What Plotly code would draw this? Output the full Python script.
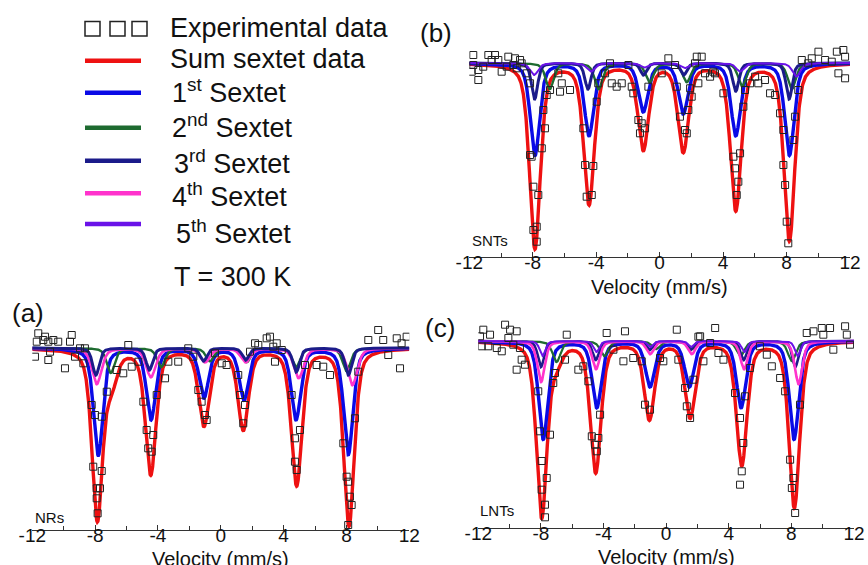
import numpy as np
import plotly.graph_objects as go

# ---------------- tick labels ----------------
tick_vals = [-12, -8, -4, 0, 4, 8, 12]
tick_text = ["-12", "-8", "-4", "0", "4", "8", "12"]

# ---------------- sextet line parameters ----------------
# positions (mm/s), depths (% absorption), line width (FWHM, mm/s)
# Panel (a) NRs
a_sum_pos = [-7.86, -4.46, -1.07, 1.43, 4.83, 8.16, -6.95]
a_sum_depth = [17.0, 12.5, 7.6, 8.0, 13.6, 17.7, 3.0]
a_sum_w = 0.8
a_s1_pos = [-7.80, -4.44, -1.07, 1.48, 4.79, 8.12]
a_s1_depth = [10.7, 7.1, 4.9, 5.1, 7.1, 10.6]
a_s1_w = 0.7
a_s2_pos = [-7.00, -3.80, -0.69, 1.65, 4.80, 8.01]
a_s2_depth = [2.5, 1.9, 1.3, 1.4, 1.9, 2.3]
a_s2_w = 0.6
a_s3_pos = [-7.95, -4.55, -1.10, 1.58, 4.80, 8.12]
a_s3_depth = [2.7, 2.2, 1.3, 1.2, 2.4, 2.7]
a_s3_w = 0.5
a_s4_pos = [-7.90, -4.45, -1.00, 1.58, 4.96, 8.38]
a_s4_depth = [3.6, 2.9, 1.4, 1.4, 3.0, 3.7]
a_s4_w = 0.72

# Panel (b) SNTs
b_sum_pos = [-7.86, -4.45, -1.03, 1.49, 4.80, 8.18]
b_sum_depth = [18.5, 14.0, 8.5, 8.7, 14.6, 17.7]
b_sum_w = 0.8
b_s1_pos = [-7.86, -4.45, -1.03, 1.49, 4.80, 8.18]
b_s1_depth = [9.2, 7.2, 4.8, 5.0, 7.2, 9.2]
b_s1_w = 0.7
b_s2_pos = [-6.93, -3.85, -0.63, 1.71, 5.20, 8.33]
b_s2_depth = [2.6, 2.6, 1.9, 1.9, 2.3, 2.6]
b_s2_w = 0.6
b_s3_pos = [-7.88, -4.52, -1.02, 1.52, 4.80, 8.16]
b_s3_depth = [3.6, 2.6, 1.2, 1.2, 2.8, 3.6]
b_s3_w = 0.46
b_s5_pos = [-7.92, -4.33, -0.95, 1.60, 5.07, 8.62]
b_s5_depth = [1.2, 0.85, 0.45, 0.5, 0.85, 1.35]
b_s5_w = 0.6

# Panel (c) LNTs
c_sum_pos = [-7.95, -4.50, -1.07, 1.53, 4.83, 8.19, -7.00]
c_sum_depth = [17.5, 13.0, 7.7, 7.5, 12.3, 16.6, 1.6]
c_sum_w = 0.8
c_s1_pos = [-7.85, -4.43, -1.03, 1.48, 4.79, 8.17]
c_s1_depth = [9.8, 6.6, 4.5, 4.5, 6.6, 9.8]
c_s1_w = 0.7
c_s2_pos = [-7.00, -3.95, -0.65, 1.65, 4.75, 8.03]
c_s2_depth = [2.1, 1.5, 0.8, 0.8, 1.5, 2.0]
c_s2_w = 0.6
c_s3_pos = [-8.00, -4.50, -1.05, 1.55, 4.95, 8.25]
c_s3_depth = [2.6, 1.9, 0.9, 0.9, 1.9, 2.6]
c_s3_w = 0.46
c_s4_pos = [-7.99, -4.48, -1.03, 1.64, 4.98, 8.46]
c_s4_depth = [4.1, 2.8, 1.3, 1.3, 2.8, 4.3]
c_s4_w = 0.56
c_s5_pos = [-7.90, -4.45, -1.00, 1.60, 5.00, 8.40]
c_s5_depth = [1.5, 1.1, 0.6, 0.6, 1.1, 1.5]
c_s5_w = 0.42

# Lorentzian fraction of the pseudo-Voigt line shape
eta = 0.5

# ---------------- experimental points (velocity mm/s, relative transmission %) ----------------
a_exp_v = [-11.62, -11.72, -11.83, -11.30, -10.98, -10.66, -10.35, -10.87, -10.98, -9.92,
           -9.49, -9.60, -9.28, -8.96, -8.65, -8.75, -8.22, -8.01, -7.58, -8.12,
           -7.58, -7.90, -7.69, -7.90, -7.84, -7.26, -6.63, -6.21, -5.89, -5.67,
           -5.25, -4.93, -4.72, -4.30, -4.62, -4.40, -4.08, -3.55, -3.34, -2.71,
           -2.07, -1.75, -1.43, -1.22, -1.01, -0.90, -0.37, 0.06, 0.37, 1.11,
           1.22, 1.54, 1.43, 1.86, 2.18, 2.39, 2.92, 3.34, 3.45, 3.88,
           4.51, 4.72, 4.72, 4.83, 5.04, 5.36, 6.10, 6.52, 6.95, 7.80,
           8.01, 8.11, 8.22, 8.11, 8.33, 8.54, 8.75, 9.39, 10.02, 10.34,
           10.66, 11.20, 11.51, 11.41, 11.83, -11.19, 3.13, 3.56]
a_exp_t = [101.47, 100.63, 99.13, 100.80, 100.63, 100.80, 100.63, 99.63, 98.80, 97.97,
           101.30, 100.63, 99.13, 99.97, 99.97, 98.47, 94.30, 93.30, 93.13, 88.13,
           87.70, 85.97, 85.97, 84.97, 83.47, 95.63, 97.80, 97.47, 100.30, 98.13,
           98.63, 94.63, 91.80, 91.30, 89.97, 89.63, 95.30, 96.97, 98.63, 98.63,
           99.97, 99.13, 95.80, 94.63, 93.30, 92.80, 99.47, 98.47, 98.30, 97.30,
           95.30, 94.30, 92.47, 99.63, 100.47, 100.30, 100.97, 100.13, 98.63, 99.80,
           95.30, 90.97, 88.63, 87.80, 91.80, 98.30, 98.30, 98.13, 97.30, 90.47,
           87.13, 86.63, 85.13, 82.30, 84.30, 92.97, 97.63, 100.80, 101.80, 100.80,
           99.30, 100.97, 100.47, 97.97, 101.13, 101.13, 101.13, 100.47]

b_exp_v = [-11.75, -11.85, -11.43, -11.12, -10.80, -10.38, -10.17, -10.59, -9.96, -9.54,
           -9.12, -9.23, -9.64, -8.70, -11.43, -11.75, -8.80, -9.01, -8.38, -8.17,
           -8.07, -7.96, -7.65, -7.75, -7.96, -7.75, -8.17, -7.43, -7.23, -7.33,
           -7.12, -6.91, -6.39, -6.17, -6.28, -5.65, -4.81, -4.70, -4.18, -4.28,
           -4.60, -3.97, -3.87, -3.44, -3.02, -2.71, -2.39, -1.76, -1.66, -1.97,
           -3.13, -1.34, -1.24, -0.92, -1.13, -0.71, 0.13, 0.55, 0.97, 1.08,
           1.28, 1.60, 1.71, 1.81, 2.02, 1.92, 2.34, 2.65, 2.23, 2.44,
           2.86, 3.18, 3.49, 3.38, 4.02, 4.65, 4.75, 4.96, 4.86, 5.07,
           5.28, 5.38, 5.70, 6.02, 6.22, 6.64, 6.96, 7.28, 7.59, 7.80,
           7.80, 7.91, 8.01, 8.11, 8.54, 8.74, 8.43, 8.96, 9.37, 9.59,
           10.01, 10.43, 10.85, 11.17, 11.58, 11.69, 11.27, 11.69]
b_exp_t = [100.80, 99.13, 99.30, 99.63, 100.80, 100.80, 100.30, 100.30, 99.13, 100.63,
           100.47, 99.80, 99.63, 99.97, 98.30, 99.80, 100.30, 99.47, 98.97, 97.97,
           90.63, 87.63, 86.80, 83.63, 83.30, 82.13, 90.80, 91.47, 93.47, 95.30,
           96.80, 97.30, 98.97, 97.97, 97.13, 97.30, 93.47, 89.80, 89.70, 86.80,
           86.63, 96.13, 97.97, 98.97, 97.97, 97.63, 97.97, 97.63, 96.97, 99.80,
           99.97, 94.30, 92.97, 93.47, 93.97, 97.63, 98.97, 100.47, 99.80, 97.63,
           94.63, 93.30, 92.97, 95.30, 96.63, 97.47, 100.63, 100.63, 99.97, 97.97,
           98.97, 98.63, 98.97, 99.13, 96.97, 90.63, 89.47, 88.13, 86.80, 90.97,
           95.63, 97.30, 97.97, 98.63, 97.97, 98.30, 96.97, 96.80, 94.97, 93.30,
           89.80, 87.80, 84.13, 81.97, 94.63, 97.30, 92.30, 100.30, 99.97, 100.47,
           101.13, 100.30, 100.13, 101.13, 101.30, 100.63, 98.97, 98.47]

c_exp_v = [-11.68, -11.89, -11.78, -11.25, -11.36, -10.82, -10.50, -10.29, -9.97, -9.55,
           -10.08, -9.76, -9.34, -9.23, -9.55, -9.02, -8.17, -8.06, -7.42, -7.95,
           -7.63, -7.95, -7.74, -7.74, -7.21, -7.10, -6.46, -6.35, -5.61, -5.29,
           -4.75, -4.33, -4.54, -4.43, -4.22, -4.97, -3.80, -3.37, -2.73, -2.63,
           -2.10, -1.56, -1.35, -1.03, -0.39, -0.18, 0.68, 0.78, 1.21, 1.32,
           1.53, 1.74, 2.17, 2.38, 2.81, 3.13, 3.34, 3.66, 4.40, 4.72,
           4.93, 4.83, 4.72, 5.04, 5.35, 5.99, 6.43, 6.75, 7.28, 7.60,
           7.92, 8.13, 8.03, 8.24, 8.55, 8.98, 9.41, 9.94, 10.47, 10.68,
           11.43, 11.54, 11.75, 10.04, 2.06]
c_exp_t = [101.13, 100.47, 99.47, 100.63, 99.47, 99.30, 98.97, 101.63, 101.13, 100.97,
           100.30, 99.63, 99.30, 98.13, 97.13, 97.63, 94.97, 90.97, 90.63, 88.00,
           86.30, 85.13, 83.63, 82.37, 95.80, 96.80, 98.13, 100.63, 97.13, 97.47,
           90.47, 90.30, 89.63, 88.97, 92.63, 95.97, 100.80, 99.13, 97.97, 100.97,
           98.30, 97.97, 93.63, 93.13, 98.30, 97.97, 101.13, 98.13, 95.30, 93.47,
           92.30, 96.13, 100.47, 97.97, 99.80, 101.30, 98.80, 98.13, 94.80, 92.30,
           89.80, 86.97, 85.63, 94.47, 97.30, 99.47, 98.63, 97.47, 96.30, 94.97,
           88.13, 86.30, 85.30, 82.80, 93.63, 100.80, 100.97, 101.30, 101.30, 99.13,
           101.47, 100.63, 99.63, 100.63, 100.43]

# ---------------- styles ----------------
C_SUM = "#ee1111"
C_S1 = "#0a0ae6"
C_S2 = "#1e6b30"
C_S3 = "#1b1b8a"
C_S4 = "#ff33cc"
C_S5 = "#6a12e8"
FONT = "Liberation Sans, Arial, sans-serif"
W, H = 868, 565


def X(px):
    return px / W


def Y(py):
    return 1 - py / H


v_grid = np.linspace(-12, 12, 1601)


def sextet(pos, depth, fwhm):
    hw = fwhm / 2.0
    t = np.full_like(v_grid, 100.0)
    for p, d in zip(pos, depth):
        u = (v_grid - p) / hw
        shape = eta / (1.0 + u ** 2) + (1 - eta) * np.exp(-np.log(2) * u ** 2)
        t -= d * shape
    return t


fig = go.Figure()

panels = [
    ("x", "y", [
        (a_sum_pos, a_sum_depth, a_sum_w, C_SUM, 3.4),
        (a_s1_pos, a_s1_depth, a_s1_w, C_S1, 3.4),
        (a_s2_pos, a_s2_depth, a_s2_w, C_S2, 2.4),
        (a_s4_pos, a_s4_depth, a_s4_w, C_S4, 2.6),
        (a_s3_pos, a_s3_depth, a_s3_w, C_S3, 3.0),
    ], a_exp_v, a_exp_t),
    ("x2", "y2", [
        (b_sum_pos, b_sum_depth, b_sum_w, C_SUM, 3.4),
        (b_s1_pos, b_s1_depth, b_s1_w, C_S1, 3.4),
        (b_s2_pos, b_s2_depth, b_s2_w, C_S2, 2.4),
        (b_s3_pos, b_s3_depth, b_s3_w, C_S3, 3.0),
        (b_s5_pos, b_s5_depth, b_s5_w, C_S5, 2.0),
    ], b_exp_v, b_exp_t),
    ("x3", "y3", [
        (c_sum_pos, c_sum_depth, c_sum_w, C_SUM, 3.4),
        (c_s1_pos, c_s1_depth, c_s1_w, C_S1, 3.4),
        (c_s2_pos, c_s2_depth, c_s2_w, C_S2, 2.2),
        (c_s3_pos, c_s3_depth, c_s3_w, C_S3, 2.6),
        (c_s4_pos, c_s4_depth, c_s4_w, C_S4, 2.6),
        (c_s5_pos, c_s5_depth, c_s5_w, C_S5, 2.0),
    ], c_exp_v, c_exp_t),
]

for xa, ya, curves, ev, et in panels:
    for pos, dep, w, col, lw in curves:
        fig.add_trace(go.Scatter(x=v_grid, y=sextet(pos, dep, w), mode="lines",
                                 line=dict(color=col, width=lw), xaxis=xa, yaxis=ya,
                                 showlegend=False, hoverinfo="skip"))
    fig.add_trace(go.Scatter(x=ev, y=et, mode="markers", xaxis=xa, yaxis=ya,
                             marker=dict(symbol="square-open", size=7,
                                         color="#222222", line=dict(width=1)),
                             showlegend=False, hoverinfo="skip"))

xaxis_common = dict(range=[-12, 12], tickmode="array", tickvals=tick_vals, ticktext=tick_text,
                    ticks="inside", ticklen=5, tickcolor="#333", showline=True,
                    linecolor="#333", linewidth=1, showgrid=False, zeroline=False,
                    automargin=False, ticklabelstandoff=-12,
                    tickfont=dict(family=FONT, size=19, color="#111"),
                    minor=dict(dtick=2, tick0=0, ticks="inside", ticklen=4, tickcolor="#333"))
yaxis_common = dict(visible=False, showgrid=False, zeroline=False, automargin=False)

fig.update_layout(
    template="none",
    width=W, height=H, autosize=False,
    margin=dict(l=0, r=0, t=0, b=0, pad=0, autoexpand=False),
    paper_bgcolor="white", plot_bgcolor="white",
    xaxis=dict(domain=[X(32.3), X(409.3)], anchor="y", **xaxis_common),
    yaxis=dict(domain=[Y(530), Y(325)], range=[81.8, 102.3], anchor="x", **yaxis_common),
    xaxis2=dict(domain=[X(469.3), X(850)], anchor="y2", **xaxis_common),
    yaxis2=dict(domain=[Y(256.7), Y(42)], range=[80.63, 102.1], anchor="x2", **yaxis_common),
    xaxis3=dict(domain=[X(478.3), X(854)], anchor="y3", **xaxis_common),
    yaxis3=dict(domain=[Y(528), Y(318)], range=[81.3, 102.3], anchor="x3", **yaxis_common),
)

ann = []


def txt(px, py, s, size, xanchor="left", yanchor="middle"):
    ann.append(dict(x=X(px), y=Y(py), xref="paper", yref="paper", text=s, showarrow=False,
                    xanchor=xanchor, yanchor=yanchor,
                    font=dict(family=FONT, size=size, color="#111")))


# axis titles
txt(220.8, 559, "Velocity (mm/s)", 20, "center")
txt(659.6, 287, "Velocity (mm/s)", 20, "center")
txt(666.1, 557, "Velocity (mm/s)", 20, "center")
# panel letters
txt(10, 313, "(a)", 26)
txt(418, 33, "(b)", 26)
txt(423, 328, "(c)", 26)
# sample names
txt(33, 517, "NRs", 15)
txt(470, 240, "SNTs", 15)
txt(478, 510, "LNTs", 15)

# legend
legend_items = [
    ("Experimental data", 168, 27.7, None, None),
    ("Sum sextet data", 168, 58.5, C_SUM, 60.7),
    ("1<sup>st</sup> Sextet", 170, 91, C_S1, 92.7),
    ("2<sup>nd</sup> Sextet", 170, 126, C_S2, 127.7),
    ("3<sup>rd</sup> Sextet", 172, 162, C_S3, 160.7),
    ("4<sup>th</sup> Sextet", 170, 195, C_S4, 193.3),
    ("5<sup>th</sup> Sextet", 174, 232, C_S5, 224),
]
shapes = []
for label, tx, ty, col, ly in legend_items:
    txt(tx, ty, label, 27)
    if col is not None:
        shapes.append(dict(type="line", xref="paper", yref="paper",
                           x0=X(85), x1=X(141), y0=Y(ly), y1=Y(ly),
                           line=dict(color=col, width=4.5)))
for sx in (85, 110, 132):
    shapes.append(dict(type="rect", xref="paper", yref="paper",
                       x0=X(sx), x1=X(sx + 15), y0=Y(36), y1=Y(21.5),
                       line=dict(color="#222", width=1.5)))
txt(172, 277, "T = 300 K", 27)

fig.update_layout(annotations=ann, shapes=shapes)
fig.write_html("out.html", config={"displayModeBar": False},
               post_script="document.body.style.margin='0';")
